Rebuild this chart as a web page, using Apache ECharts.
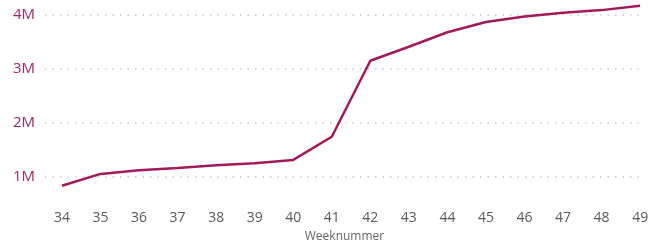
<!DOCTYPE html>
<html>
<head>
<meta charset="utf-8">
<script src="https://cdn.jsdelivr.net/npm/echarts@6/dist/echarts.min.js"></script>
<style>
  html, body {margin: 0; padding: 0; background: #fff;}
  #contain {width: 651px; height: 244px;}
</style>
</head>
<body>
<div id="contain"></div>
<script>
// weeknummer en cumulatief aantal
var weeks = [34, 35, 36, 37, 38, 39, 40, 41, 42, 43, 44, 45, 46, 47, 48, 49];
var values = [830000, 1050000, 1120000, 1160000, 1210000, 1250000, 1310000, 1740000,
    3150000, 3410000, 3680000, 3870000, 3970000, 4040000, 4090000, 4170000];
var yTicks = [0, 1000000, 2000000, 3000000, 4000000];

var points = [];
for (var i = 0; i < weeks.length; i++) {
    points.push([weeks[i], values[i]]);
}

var myChart = echarts.init(document.getElementById('contain'));
var option = {
    animation: false,
    backgroundColor: '#ffffff',
    textStyle: {fontFamily: 'Open Sans'},
    grid: {left: 45, right: 7, top: 1.5, bottom: 13.5, outerBoundsMode: 'none', containLabel: false},
    xAxis: {
        type: 'value',
        min: 33.56,
        max: 49.1,
        name: 'Weeknummer',
        nameLocation: 'middle',
        nameGap: 0,
        nameMoveOverlap: false,
        nameTextStyle: {color: '#666', fontSize: 12, verticalAlign: 'top'},
        axisLine: {show: false},
        axisTick: {show: false},
        splitLine: {show: false},
        axisLabel: {
            customValues: weeks,
            margin: -19,
            color: '#5a5a5a',
            fontSize: 14
        }
    },
    yAxis: {
        type: 'value',
        min: 0,
        max: 4250000,
        interval: 1000000,
        axisLine: {show: false},
        axisTick: {show: false},
        axisLabel: {
            margin: 10,
            color: '#a3296a',
            fontSize: 15,
            formatter: function (v) {
                return yTicks.indexOf(v) > 0 ? (v / 1000000) + 'M' : '';
            }
        },
        splitLine: {
            show: true,
            showMinLine: false,
            showMaxLine: false,
            lineStyle: {color: '#c8c8c8', width: 1.5, type: [1.5, 6]}
        }
    },
    series: [
        {
            type: 'line',
            data: points,
            symbol: 'none',
            lineStyle: {color: '#a3195b', width: 2.5}
        }
    ]
};
myChart.setOption(option);
</script>
</body>
</html>
